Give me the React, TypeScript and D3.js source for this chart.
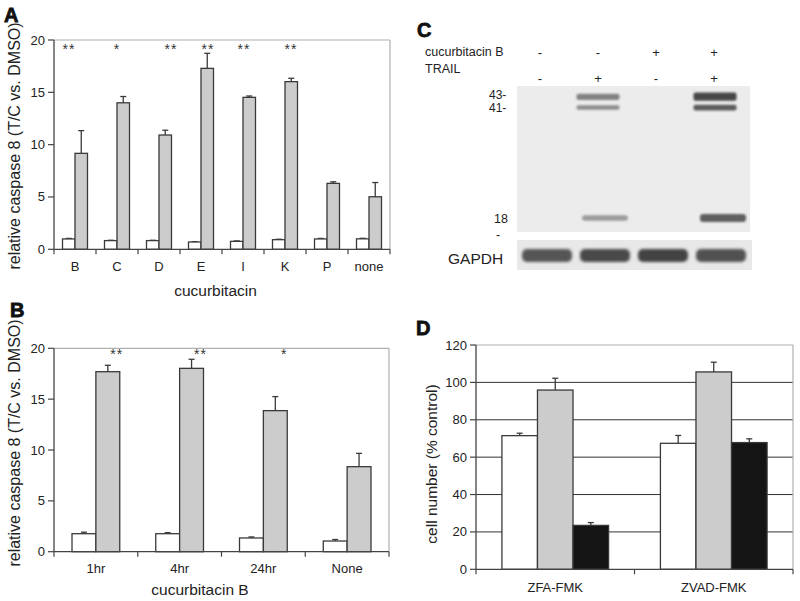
import React from "react";
import * as d3 from "d3";

// ---------- Panel A data ----------
const catsA = ["B", "C", "D", "E", "I", "K", "P", "none"];
const whiteA = [0.99, 0.83, 0.83, 0.7, 0.76, 0.92, 0.99, 1.0];
const whiteErrA = [0.05, 0.03, 0.03, 0.03, 0.04, 0.04, 0.05, 0.05];
const grayA = [9.17, 14.0, 10.92, 17.29, 14.52, 16.02, 6.3, 5.02];
const grayErrA = [2.17, 0.6, 0.46, 1.44, 0.13, 0.32, 0.15, 1.36];
const starsA = ["**", "*", "**", "**", "**", "**", "", ""];
const starDxA = [-6, 0, 12, 7, 1, 6, 0, 0];
const ticksA = [0, 5, 10, 15, 20];

// ---------- Panel B data ----------
const catsB = ["1hr", "4hr", "24hr", "None"];
const whiteB = [1.77, 1.77, 1.35, 1.05];
const whiteErrB = [0.15, 0.1, 0.1, 0.15];
const grayB = [17.7, 18.03, 13.87, 8.36];
const grayErrB = [0.63, 0.89, 1.38, 1.31];
const starsB = ["**", "**", "*", ""];
const ticksB = [0, 5, 10, 15, 20];

// ---------- Panel C data ----------
const lanesC = ["1", "2", "3", "4"];
const cucB = ["-", "-", "+", "+"];
const trailC = ["-", "+", "-", "+"];
const band43 = [0, 0.55, 0, 0.85];
const band41 = [0, 0.5, 0, 0.75];
const band18 = [0, 0.42, 0, 0.72];
const gapdh = [0.78, 0.84, 0.88, 0.8];

// ---------- Panel D data ----------
const catsD = ["ZFA-FMK", "ZVAD-FMK"];
const whiteD = [71.5, 67.4];
const whiteErrD = [1.3, 4.2];
const grayD = [95.9, 105.6];
const grayErrD = [6.3, 5.2];
const blackD = [23.5, 67.8];
const blackErrD = [1.5, 2.0];
const ticksD = [0, 20, 40, 60, 80, 100, 120];

const FONT = "Liberation Sans, Arial, Helvetica, sans-serif";
const AXIS = "#444";
const FRAME = "#b0b0b0";
const BAR_STROKE = "#3a3a3a";
const GRAY_FILL = "#cccccc";

type Series = { values: number[]; errs: number[]; fill: string };

function BarPanel(props: {
  cats: string[];
  series: Series[];
  x0: number;
  x1: number;
  yTop: number;
  yBottom: number;
  yMax: number;
  ticks: number[];
  pad: number;
  grid?: boolean;
  tickFont?: number;
  catFont?: number;
  catY: number;
  capW: number;
}) {
  const { cats, series, x0, x1, yTop, yBottom, yMax, ticks, pad, grid, catY, capW } = props;
  const y = d3.scaleLinear().domain([0, yMax]).range([yBottom, yTop]);
  const x = d3.scaleBand<string>().domain(cats).range([x0, x1]).paddingInner(pad).paddingOuter(pad / 2);
  const inner = d3
    .scaleBand<number>()
    .domain(series.map((_, i) => i))
    .range([0, x.bandwidth()]);
  const step = x.step();
  return (
    <g>
      {grid &&
        ticks
          .filter((t) => t > 0 && t < yMax)
          .map((t) => (
            <line key={"g" + t} x1={x0} x2={x1} y1={y(t)} y2={y(t)} stroke="#333" strokeWidth={1} />
          ))}
      <line x1={x0} x2={x1} y1={yTop} y2={yTop} stroke={FRAME} strokeWidth={1.2} />
      <line x1={x1} x2={x1} y1={yTop} y2={yBottom} stroke={FRAME} strokeWidth={1.2} />
      {cats.map((c, ci) =>
        series.map((s, si) => {
          const bx = (x(c) as number) + (inner(si) as number);
          const bw = inner.bandwidth();
          const v = s.values[ci];
          const e = s.errs[ci];
          const cx = bx + bw / 2;
          return (
            <g key={c + si}>
              <line x1={cx} x2={cx} y1={y(v)} y2={y(v + e)} stroke={BAR_STROKE} strokeWidth={1.3} />
              <line x1={cx - capW / 2} x2={cx + capW / 2} y1={y(v + e)} y2={y(v + e)} stroke={BAR_STROKE} strokeWidth={1.3} />
              <rect x={bx} y={y(v)} width={bw} height={y(0) - y(v)} fill={s.fill} stroke={BAR_STROKE} strokeWidth={1.3} />
            </g>
          );
        })
      )}
      <line x1={x0} x2={x0} y1={yTop} y2={yBottom} stroke={AXIS} strokeWidth={1.3} />
      <line x1={x0} x2={x1} y1={yBottom} y2={yBottom} stroke={AXIS} strokeWidth={1.3} />
      {ticks.map((t) => (
        <g key={"t" + t}>
          <line x1={x0 - 6} x2={x0} y1={y(t)} y2={y(t)} stroke={AXIS} strokeWidth={1.2} />
          <text x={x0 - 9} y={y(t) + 4.5} textAnchor="end" fontSize={props.tickFont ?? 13} fontFamily={FONT} fill="#222">
            {t}
          </text>
        </g>
      ))}
      {d3.range(cats.length + 1).map((i) => (
        <line key={"xt" + i} x1={x0 + i * step} x2={x0 + i * step} y1={yBottom} y2={yBottom + 5} stroke={AXIS} strokeWidth={1.2} />
      ))}
      {cats.map((c) => (
        <text key={"xl" + c} x={(x(c) as number) + x.bandwidth() / 2} y={catY} textAnchor="middle" fontSize={props.catFont ?? 13} fontFamily={FONT} fill="#222">
          {c}
        </text>
      ))}
    </g>
  );
}

function PanelLetter(props: { x: number; y: number; t: string }) {
  return (
    <text x={props.x} y={props.y} fontSize={20} fontWeight={900} fontFamily={FONT} fill="#111" stroke="#111" strokeWidth={0.8}>
      {props.t}
    </text>
  );
}

function YTitle(props: { x: number; y: number; t: string; size: number }) {
  return (
    <text
      transform={`translate(${props.x},${props.y}) rotate(-90)`}
      textAnchor="middle"
      fontSize={props.size}
      fontFamily={FONT}
      fill="#222"
    >
      {props.t}
    </text>
  );
}

function PanelC() {
  const lane = d3.scaleBand<string>().domain(lanesC).range([518, 750]);
  const shade = d3.interpolateRgb("#eeeeee", "#2a2a2a");
  const blotTop = 86;
  const blotBottom = 232;
  return (
    <g>
      <defs>
        <filter id="blur" x="-20%" y="-150%" width="140%" height="400%">
          <feGaussianBlur stdDeviation="1.3" />
        </filter>
        <filter id="blur2" x="-20%" y="-100%" width="140%" height="300%">
          <feGaussianBlur stdDeviation="1.8" />
        </filter>
      </defs>
      <text x={425} y={56} fontSize={12.5} fontFamily={FONT} fill="#222">cucurbitacin B</text>
      <text x={425} y={73} fontSize={12.5} fontFamily={FONT} fill="#222">TRAIL</text>
      {lanesC.map((l, i) => {
        const cx = (lane(l) as number) + lane.bandwidth() / 2 - 7;
        return (
          <g key={"s" + l}>
            <text x={cx} y={57} textAnchor="middle" fontSize={13} fontFamily={FONT} fill="#222">{cucB[i]}</text>
            <text x={cx} y={83} textAnchor="middle" fontSize={13} fontFamily={FONT} fill="#222">{trailC[i]}</text>
          </g>
        );
      })}
      <rect x={517} y={blotTop} width={233} height={blotBottom - blotTop} fill="#ececec" />
      <g filter="url(#blur)">
        {lanesC.map((l, i) => {
          const c = (lane(l) as number) + lane.bandwidth() / 2;
          return (
            <g key={"b" + l}>
              {band43[i] > 0 && (
                <rect x={c - 29 + i * 0.5} y={96 - band43[i] * 4} width={43} height={3 + band43[i] * 6} rx={2} fill={shade(band43[i])} />
              )}
              {band41[i] > 0 && (
                <rect x={c - 29 + i * 0.5} y={106.5 - band41[i] * 2.5} width={43} height={2 + band41[i] * 5} rx={2} fill={shade(band41[i])} />
              )}
              {band18[i] > 0 && (
                <rect x={c - 24 + i} y={217 - band18[i] * 4} width={46} height={2 + band18[i] * 8} rx={3} fill={shade(band18[i])} />
              )}
            </g>
          );
        })}
      </g>
      <text x={489} y={99} fontSize={12} fontFamily={FONT} fill="#222">43-</text>
      <text x={489} y={111.5} fontSize={12} fontFamily={FONT} fill="#222">41-</text>
      <text x={494} y={223} fontSize={12.5} fontFamily={FONT} fill="#222">18</text>
      <text x={496} y={239} fontSize={12.5} fontFamily={FONT} fill="#222">-</text>
      <rect x={517} y={240} width={235} height={30} fill="#e8e8e8" />
      <g filter="url(#blur2)">
        {lanesC.map((l, i) => {
          const c = (lane(l) as number) + lane.bandwidth() / 2;
          return <rect key={"g" + l} x={c - 25} y={249} width={50} height={13} rx={5} fill={shade(gapdh[i])} />;
        })}
      </g>
      <text x={448} y={264} fontSize={15.5} fontFamily={FONT} fill="#222">GAPDH</text>
    </g>
  );
}

export default function App() {
  const xA = d3.scaleBand<string>().domain(catsA).range([54, 390]);
  const xB = d3.scaleBand<string>().domain(catsB).range([54, 389]);
  return (
    <svg width={800} height={601} style={{ position: "absolute", left: 0, top: 0, background: "#fff" }}>
      <rect x={0} y={0} width={800} height={601} fill="#fff" />
      {/* Panel A */}
      <PanelLetter x={4} y={22} t="A" />
      <BarPanel
        cats={catsA}
        series={[
          { values: whiteA, errs: whiteErrA, fill: "#fff" },
          { values: grayA, errs: grayErrA, fill: GRAY_FILL },
        ]}
        x0={54}
        x1={390}
        yTop={40}
        yBottom={249.3}
        yMax={20}
        ticks={ticksA}
        pad={0.405}
        catY={271}
        capW={6}
      />
      {catsA.map((c, i) => (
        <text key={"sa" + c} x={(xA(c) as number) + xA.bandwidth() / 2 + starDxA[i]} y={54} textAnchor="middle" fontSize={14} fontFamily={FONT} fill="#333" letterSpacing={1}>
          {starsA[i]}
        </text>
      ))}
      <YTitle x={20} y={146} t="relative caspase 8 (T/C vs. DMSO)" size={16} />
      <text x={215.5} y={296} textAnchor="middle" fontSize={15.5} fontFamily={FONT} fill="#222">cucurbitacin</text>

      {/* Panel B */}
      <PanelLetter x={10} y={317} t="B" />
      <BarPanel
        cats={catsB}
        series={[
          { values: whiteB, errs: whiteErrB, fill: "#fff" },
          { values: grayB, errs: grayErrB, fill: GRAY_FILL },
        ]}
        x0={54}
        x1={389}
        yTop={348.3}
        yBottom={551.7}
        yMax={20}
        ticks={ticksB}
        pad={0.43}
        catY={573}
        capW={6}
      />
      {catsB.map((c, i) => (
        <text key={"sb" + c} x={(xB(c) as number) + xB.bandwidth() * 0.75} y={359} textAnchor="middle" fontSize={14} fontFamily={FONT} fill="#333" letterSpacing={1}>
          {starsB[i]}
        </text>
      ))}
      <YTitle x={20} y={443} t="relative caspase 8 (T/C vs. DMSO)" size={16} />
      <text x={200} y={595} textAnchor="middle" fontSize={15.5} fontFamily={FONT} fill="#222">cucurbitacin  B</text>

      {/* Panel C */}
      <PanelLetter x={417} y={37} t="C" />
      <PanelC />

      {/* Panel D */}
      <PanelLetter x={416} y={335} t="D" />
      <BarPanel
        cats={catsD}
        series={[
          { values: whiteD, errs: whiteErrD, fill: "#fff" },
          { values: grayD, errs: grayErrD, fill: GRAY_FILL },
          { values: blackD, errs: blackErrD, fill: "#141414" },
        ]}
        x0={476}
        x1={793}
        yTop={345}
        yBottom={569.3}
        yMax={120}
        ticks={ticksD}
        pad={0.327}
        grid
        catY={592}
        capW={6}
      />
      <YTitle x={437} y={464} t="cell number (% control)" size={15.5} />
    </svg>
  );
}
